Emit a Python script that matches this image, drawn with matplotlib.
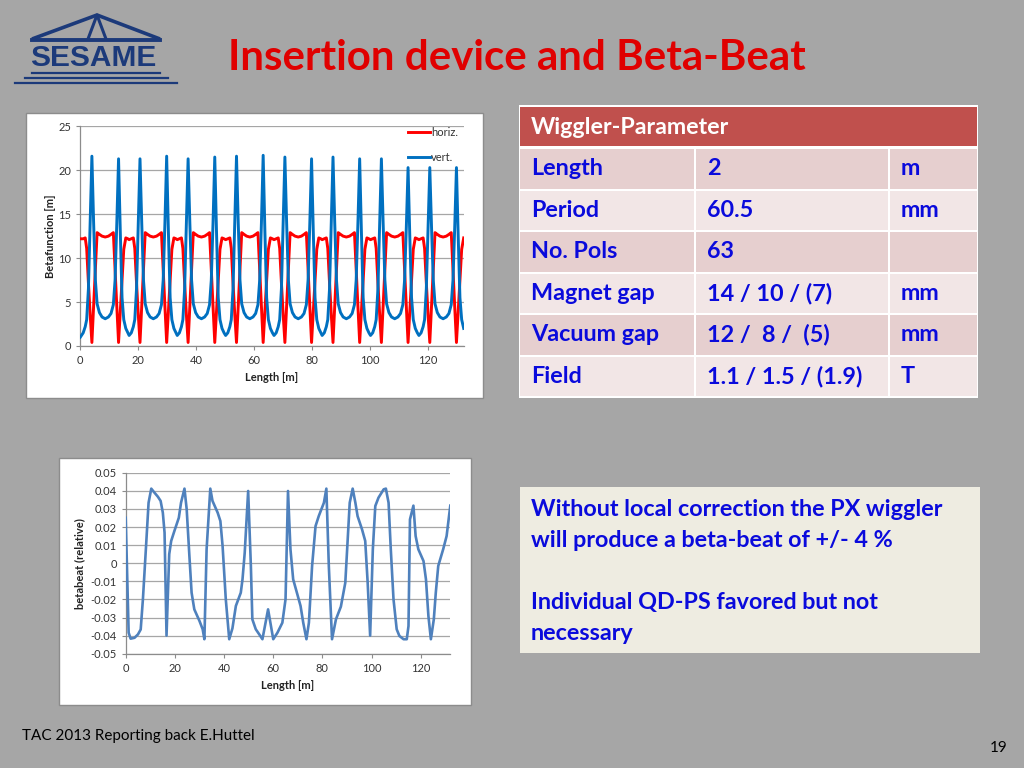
import matplotlib
matplotlib.use("Agg")
import matplotlib.pyplot as plt
from matplotlib.patches import Rectangle

plt.rcParams["font.family"] = ["Lato", "DejaVu Sans"]

# ---------------------------------------------------------------------------
# Daten
# ---------------------------------------------------------------------------

# Betafunktion, Länge [m]
beta_len = [
    0.0, 1.0, 1.7, 2.2, 2.8, 3.4, 4.0, 4.6, 5.2, 5.8, 6.6, 7.5, 8.6, 9.7, 10.6, 11.4, 12.0, 12.6, 13.2, 13.8, 14.4, 15.0, 15.7, 16.4,
    16.85, 17.6, 18.3, 18.8, 19.4, 20.0, 20.6, 21.2, 21.8, 22.4, 23.2, 24.1, 25.2, 26.3, 27.2, 28.0, 28.6, 29.2, 29.8, 30.4, 31.0, 31.6, 32.3, 33.0,
    33.45, 34.2, 34.9, 35.4, 36.0, 36.6, 37.2, 37.8, 38.4, 39.0, 39.8, 40.7, 41.8, 42.9, 43.8, 44.6, 45.2, 45.8, 46.4, 47.0, 47.6, 48.2, 48.9, 49.6,
    50.15, 50.9, 51.6, 52.1, 52.7, 53.3, 53.9, 54.5, 55.1, 55.7, 56.5, 57.4, 58.5, 59.6, 60.5, 61.3, 61.9, 62.5, 63.1, 63.7, 64.3, 64.9, 65.6, 66.3,
    66.85, 67.6, 68.3, 68.8, 69.4, 70.0, 70.6, 71.2, 71.8, 72.4, 73.2, 74.1, 75.2, 76.3, 77.2, 78.0, 78.6, 79.2, 79.8, 80.4, 81.0, 81.6, 82.3, 83.0,
    83.45, 84.2, 84.9, 85.4, 86.0, 86.6, 87.2, 87.8, 88.4, 89.0, 89.8, 90.7, 91.8, 92.9, 93.8, 94.6, 95.2, 95.8, 96.4, 97.0, 97.6, 98.2, 98.9, 99.6,
    100.15, 100.9, 101.6, 102.1, 102.7, 103.3, 103.9, 104.5, 105.1, 105.7, 106.5, 107.4, 108.5, 109.6, 110.5, 111.3, 111.9, 112.5, 113.1, 113.7, 114.3, 114.9, 115.6, 116.3,
    116.85, 117.6, 118.3, 118.8, 119.4, 120.0, 120.6, 121.2, 121.8, 122.4, 123.2, 124.1, 125.2, 126.3, 127.2, 128.0, 128.6, 129.2, 129.8, 130.4, 131.0, 131.6, 132.3,
]

beta_horiz = [
    12.2, 12.2, 12.3, 11.1, 7.2, 3.6, 0.4, 4.5, 8.6, 12.9, 12.7, 12.5, 12.4, 12.5, 12.7, 12.9, 8.6, 4.5, 0.4, 4.0, 7.5, 11.0, 12.3, 12.2,
    12.1, 12.2, 12.3, 11.1, 7.2, 3.6, 0.4, 4.5, 8.6, 12.9, 12.7, 12.5, 12.4, 12.5, 12.7, 12.9, 8.6, 4.5, 0.4, 4.0, 7.5, 11.0, 12.3, 12.2,
    12.1, 12.2, 12.3, 11.1, 7.2, 3.6, 0.4, 4.5, 8.6, 12.9, 12.7, 12.5, 12.4, 12.5, 12.7, 12.9, 8.6, 4.5, 0.4, 4.0, 7.5, 11.0, 12.3, 12.2,
    12.1, 12.2, 12.3, 11.1, 7.2, 3.6, 0.4, 4.5, 8.6, 12.9, 12.7, 12.5, 12.4, 12.5, 12.7, 12.9, 8.6, 4.5, 0.4, 4.0, 7.5, 11.0, 12.3, 12.2,
    12.1, 12.2, 12.3, 11.1, 7.2, 3.6, 0.4, 4.5, 8.6, 12.9, 12.7, 12.5, 12.4, 12.5, 12.7, 12.9, 8.6, 4.5, 0.4, 4.0, 7.5, 11.0, 12.3, 12.2,
    12.1, 12.2, 12.3, 11.1, 7.2, 3.6, 0.4, 4.5, 8.6, 12.9, 12.7, 12.5, 12.4, 12.5, 12.7, 12.9, 8.6, 4.5, 0.4, 4.0, 7.5, 11.0, 12.3, 12.2,
    12.1, 12.2, 12.3, 11.1, 7.2, 3.6, 0.4, 4.5, 8.6, 12.9, 12.7, 12.5, 12.4, 12.5, 12.7, 12.9, 8.6, 4.5, 0.4, 4.0, 7.5, 11.0, 12.3, 12.2,
    12.1, 12.2, 12.3, 11.1, 7.2, 3.6, 0.4, 4.5, 8.6, 12.9, 12.7, 12.5, 12.4, 12.5, 12.7, 12.9, 8.6, 4.5, 0.4, 4.0, 7.5, 11.0, 12.3,
]

beta_vert = [
    1.0, 1.5, 2.2, 3.0, 6.5, 14.0, 21.6, 14.0, 7.5, 4.8, 3.8, 3.3, 3.1, 3.3, 3.7, 4.7, 7.5, 14.0, 21.3, 13.0, 5.5, 3.0, 2.0, 1.5,
    1.2, 1.5, 2.2, 3.0, 6.5, 14.0, 21.3, 14.0, 7.5, 4.8, 3.8, 3.3, 3.1, 3.3, 3.7, 4.7, 7.5, 14.0, 21.6, 13.0, 5.5, 3.0, 2.0, 1.5,
    1.2, 1.5, 2.2, 3.0, 6.5, 14.0, 21.3, 14.0, 7.5, 4.8, 3.8, 3.3, 3.1, 3.3, 3.7, 4.7, 7.5, 14.0, 21.5, 13.0, 5.5, 3.0, 2.0, 1.5,
    1.2, 1.5, 2.2, 3.0, 6.5, 14.0, 21.6, 14.0, 7.5, 4.8, 3.8, 3.3, 3.1, 3.3, 3.7, 4.7, 7.5, 14.0, 21.7, 13.0, 5.5, 3.0, 2.0, 1.5,
    1.2, 1.5, 2.2, 3.0, 6.5, 14.0, 21.5, 14.0, 7.5, 4.8, 3.8, 3.3, 3.1, 3.3, 3.7, 4.7, 7.5, 14.0, 21.3, 13.0, 5.5, 3.0, 2.0, 1.5,
    1.2, 1.5, 2.2, 3.0, 6.5, 14.0, 21.5, 14.0, 7.5, 4.8, 3.8, 3.3, 3.1, 3.3, 3.7, 4.7, 7.5, 14.0, 21.3, 13.0, 5.5, 3.0, 2.0, 1.5,
    1.2, 1.5, 2.2, 3.0, 6.5, 14.0, 21.3, 14.0, 7.5, 4.8, 3.8, 3.3, 3.1, 3.3, 3.7, 4.7, 7.5, 13.5, 20.3, 12.5, 5.5, 3.0, 2.0, 1.5,
    1.2, 1.5, 2.2, 3.0, 6.5, 13.5, 20.3, 13.5, 7.5, 4.8, 3.8, 3.3, 3.1, 3.3, 3.7, 4.7, 7.5, 13.5, 20.3, 12.5, 5.5, 3.0, 2.0,
]

beta_yticks = [0, 5, 10, 15, 20, 25]
len_xticks = [0, 20, 40, 60, 80, 100, 120]

# Beta-Beat (relativ)
beat_len = [
    0.0, 1.2, 2.0, 3.6, 5.0, 6.1, 7.0, 8.4, 9.3, 10.4, 11.5, 13.1, 14.2, 15.1, 15.8, 16.6,
    17.7, 18.5, 19.8, 21.6, 22.5, 23.9, 24.8, 25.9, 26.8, 27.9, 30.0, 31.3, 32.0,
    32.9, 34.4, 35.3, 37.4, 38.5, 39.4, 40.7, 42.1, 43.4, 44.8, 46.8, 47.5, 48.4, 49.8,
    50.9, 51.5, 52.9, 54.3, 55.6, 57.9, 60.0, 61.7, 63.7, 65.0, 66.0,
    67.0, 68.1, 69.8, 71.1, 72.2, 73.5, 74.5, 75.8, 77.2, 78.5, 80.6, 81.6,
    82.6, 83.9, 85.5, 87.5, 89.3, 91.1, 92.3, 93.4, 94.3, 96.1, 97.4, 98.4, 99.4,
    100.5, 101.5, 102.8, 104.9, 105.8, 106.9, 107.8, 108.9, 110.2, 111.3, 113.0, 114.3, 115.0,
    115.6, 117.0, 117.9, 119.0, 121.1, 122.1, 123.1, 124.1, 125.3, 126.1, 127.1, 129.1, 130.5, 132.0,
]

beat_val = [
    0.0251, -0.0384, -0.0417, -0.0412, -0.0393, -0.0366, -0.0199, 0.0123, 0.0334, 0.0412, 0.0393, 0.0367, 0.0344, 0.0279, 0.0169, -0.0400,
    0.0050, 0.0123, 0.0178, 0.0251, 0.0334, 0.0412, 0.0298, 0.0040, -0.0163, -0.0255, -0.0319, -0.0365, -0.0420,
    0.0077, 0.0412, 0.0344, 0.0279, 0.0233, 0.0095, -0.0199, -0.0420, -0.0360, -0.0236, -0.0163, -0.0089, 0.0058, 0.0399,
    -0.0015, -0.0310, -0.0365, -0.0393, -0.0420, -0.0255, -0.0420, -0.0384, -0.0329, -0.0199, 0.0399,
    0.0077, -0.0089, -0.0172, -0.0236, -0.0329, -0.0420, -0.0329, -0.0015, 0.0205, 0.0260, 0.0334, 0.0412,
    -0.0015, -0.0420, -0.0310, -0.0240, -0.0108, 0.0334, 0.0412, 0.0334, 0.0260, 0.0187, 0.0123, -0.0108, -0.0400,
    0.0077, 0.0316, 0.0362, 0.0408, 0.0412, 0.0334, 0.0077, -0.0199, -0.0365, -0.0402, -0.0420, -0.0420, -0.0347,
    0.0242, 0.0318, 0.0150, 0.0077, 0.0012, -0.0089, -0.0292, -0.0420, -0.0310, -0.0163, -0.0015, 0.0077, 0.0150, 0.0318,
]

beat_yticks = [-0.05, -0.04, -0.03, -0.02, -0.01, 0.0, 0.01, 0.02, 0.03, 0.04, 0.05]
beat_yticklabels = ["-0.05", "-0.04", "-0.03", "-0.02", "-0.01", "0",
                    "0.01", "0.02", "0.03", "0.04", "0.05"]

# Wiggler-Tabelle
table_header = "Wiggler-Parameter"
table_names = ["Length", "Period", "No. Pols", "Magnet gap", "Vacuum gap", "Field"]
table_values = ["2", "60.5", "63", "14 / 10 / (7)", "12 /  8 /  (5)", "1.1 / 1.5 / (1.9)"]
table_units = ["m", "mm", "", "mm", "mm", "T"]

note_lines = [
    "Without local correction the PX wiggler",
    "will produce a beta-beat of +/- 4 %",
    "",
    "Individual QD-PS favored but not",
    "necessary",
]

# ---------------------------------------------------------------------------
# Hilfsfunktionen
# ---------------------------------------------------------------------------

W, H = 1024, 768
BG = "#A6A6A6"
BLUE_TXT = "#0A0ADC"
NAVY = "#1C3A7A"

fig = plt.figure(figsize=(W / 100, H / 100), dpi=100)
fig.patch.set_facecolor(BG)

bg = fig.add_axes([0, 0, 1, 1])
bg.set_xlim(0, W)
bg.set_ylim(H, 0)
bg.axis("off")
bg.set_zorder(0)

renderer = fig.canvas.get_renderer()


def px_axes(x0, y0, x1, y1):
    ax = fig.add_axes([x0 / W, 1 - y1 / H, (x1 - x0) / W, (y1 - y0) / H])
    ax.set_zorder(2)
    return ax


def fit_width(txt, width_px):
    w = txt.get_window_extent(renderer).width
    txt.set_fontsize(txt.get_fontsize() * width_px / w)
    return txt.get_fontsize()


def excel_style(ax):
    ax.set_facecolor("white")
    ax.spines["top"].set_visible(False)
    ax.spines["right"].set_visible(False)
    for s in ("left", "bottom"):
        ax.spines[s].set_color("#8C8C8C")
        ax.spines[s].set_linewidth(0.9)
    ax.yaxis.grid(True, color="#A6A6A6", linewidth=0.9)
    ax.set_axisbelow(True)
    ax.tick_params(labelsize=8, colors="#8C8C8C", labelcolor="#333333",
                   length=3, width=0.8)


# ---------------------------------------------------------------------------
# Logo und Titel
# ---------------------------------------------------------------------------

bg.plot([32, 97, 160], [39, 15, 39], color=NAVY, lw=2.6, solid_capstyle="butt")
bg.plot([88, 97, 106], [39, 15, 39], color=NAVY, lw=2.2)
bg.plot([32, 160], [39.5, 39.5], color=NAVY, lw=2.8)
bg.plot([32, 160], [72.5, 72.5], color=NAVY, lw=1.6)
bg.plot([25, 168], [77.5, 77.5], color=NAVY, lw=1.6)
bg.plot([15, 177], [82.5, 82.5], color=NAVY, lw=1.6)
logo = bg.text(93, 58, "SESAME", color=NAVY, fontsize=20, fontweight="bold",
               ha="center", va="center", family=["Liberation Sans", "DejaVu Sans"])
fit_width(logo, 126)

title = bg.text(517, 58, "Insertion device and Beta-Beat", color="#E00000",
                fontsize=28, fontweight="bold", ha="center", va="center")
fit_width(title, 578)

# ---------------------------------------------------------------------------
# Diagramm 1: Betafunktion
# ---------------------------------------------------------------------------

bg.add_patch(Rectangle((26, 113), 457, 285, facecolor="white", edgecolor="#8C8C8C", lw=1))

ax1 = px_axes(80.3, 126.3, 463.7, 346.0)
excel_style(ax1)
ax1.plot(beta_len, beta_horiz, color="#FF0000", lw=2.1, label="horiz.", zorder=3)
ax1.plot(beta_len, beta_vert, color="#0070C0", lw=2.1, label="vert.", zorder=4)
ax1.set_xlim(0, 132.3)
ax1.set_ylim(0, 25)
ax1.set_xticks(len_xticks)
ax1.set_yticks(beta_yticks)
ax1.set_xlabel("Length [m]", fontsize=8, fontweight="bold", color="#222222")
ax1.set_ylabel("Betafunction [m]", fontsize=8, fontweight="bold", color="#222222")
ax1.xaxis.set_label_coords(0.5, -0.145)
ax1.xaxis.label.set_va("center")
ax1.yaxis.set_label_coords(-0.079, 0.5)
ax1.yaxis.label.set_va("center")
leg = ax1.legend(loc="upper left", bbox_to_anchor=(408 / W, 1 - 127 / H),
                 bbox_transform=fig.transFigure, frameon=False, fontsize=8,
                 handlelength=2.0, handletextpad=0.05, labelspacing=1.25,
                 borderaxespad=0, borderpad=0)
for t in leg.get_texts():
    t.set_color("#333333")

# ---------------------------------------------------------------------------
# Diagramm 2: Beta-Beat
# ---------------------------------------------------------------------------

bg.add_patch(Rectangle((59, 458), 412, 247, facecolor="white", edgecolor="#8C8C8C", lw=1))

ax2 = px_axes(125.7, 472.7, 450.3, 653.7)
excel_style(ax2)
ax2.plot(beat_len, beat_val, color="#4F81BD", lw=1.9, zorder=3)
ax2.set_xlim(0, 132.0)
ax2.set_ylim(-0.05, 0.05)
ax2.set_xticks(len_xticks)
ax2.set_yticks(beat_yticks)
ax2.set_yticklabels(beat_yticklabels)
ax2.set_xlabel("Length [m]", fontsize=8, fontweight="bold", color="#222222")
ax2.set_ylabel("betabeat (relative)", fontsize=8, fontweight="bold", color="#222222")
ax2.xaxis.set_label_coords(0.5, -0.173)
ax2.xaxis.label.set_va("center")
ax2.yaxis.set_label_coords(-0.141, 0.5)
ax2.yaxis.label.set_va("center")

# ---------------------------------------------------------------------------
# Tabelle
# ---------------------------------------------------------------------------

tx0, tx1 = 519, 978
cols = [519, 695, 889, 978]
row_tops = [148, 189.5, 231, 272.5, 314, 355.5, 397]
bg.add_patch(Rectangle((tx0, 105), tx1 - tx0, 293, facecolor="white", edgecolor="none"))
bg.add_patch(Rectangle((tx0 + 1, 106.5), tx1 - tx0 - 2, 39.5, facecolor="#C0504D",
                       edgecolor="none"))
hdr = bg.text(531, 127, table_header, color="white", fontsize=14, fontweight="bold",
              va="center", ha="left")
fit_width(hdr, 199)

cell_txt = []
for i in range(len(table_names)):
    y0, y1 = row_tops[i], row_tops[i + 1]
    color = "#E6CFCF" if i % 2 == 0 else "#F2E6E6"
    for c in range(3):
        bg.add_patch(Rectangle((cols[c] + 1, y0 + 1), cols[c + 1] - cols[c] - 2,
                               y1 - y0 - 2, facecolor=color, edgecolor="none"))
    yc = (y0 + y1) / 2
    for c, txt in enumerate((table_names[i], table_values[i], table_units[i])):
        t = bg.text(cols[c] + 12, yc, txt, color=BLUE_TXT, fontsize=15,
                    fontweight="bold", va="center", ha="left")
        cell_txt.append(t)

size = fit_width(cell_txt[9], 124)  # "Magnet gap"
for t in cell_txt:
    t.set_fontsize(size)

# ---------------------------------------------------------------------------
# Textbox
# ---------------------------------------------------------------------------

bg.add_patch(Rectangle((520, 487), 460, 166, facecolor="#EEECE1", edgecolor="none"))
note_y = [509, 540.5, 571, 602, 633]
note_txt = []
for line, y in zip(note_lines, note_y):
    note_txt.append(bg.text(531, y, line, color=BLUE_TXT, fontsize=15,
                            fontweight="bold", va="center", ha="left"))
size = fit_width(note_txt[0], 414)
for t in note_txt:
    t.set_fontsize(size)

# ---------------------------------------------------------------------------
# Fusszeile
# ---------------------------------------------------------------------------

foot = bg.text(22, 736, "TAC 2013 Reporting back E.Huttel", color="black",
               fontsize=11, va="center", ha="left")
fit_width(foot, 232)
bg.text(1008, 748, "19", color="black", fontsize=foot.get_fontsize(),
        va="center", ha="right")

fig.savefig("out.png", dpi=100, facecolor=fig.get_facecolor())
